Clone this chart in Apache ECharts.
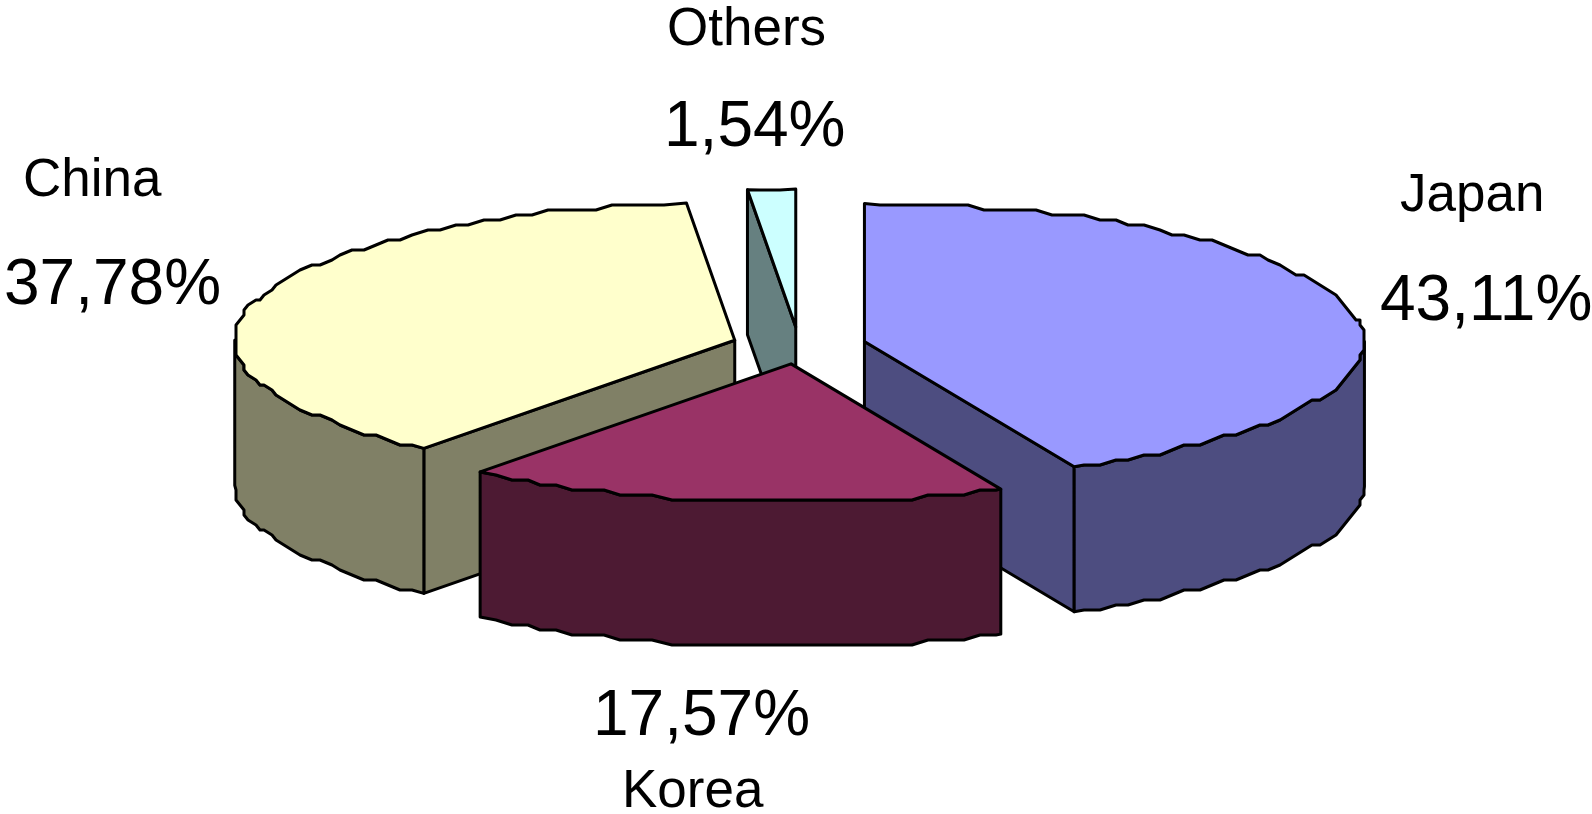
<!DOCTYPE html>
<html><head><meta charset="utf-8">
<style>html,body{margin:0;padding:0;background:#fff;overflow:hidden}#c{width:1592px;height:814px}</style>
<script src="https://cdn.jsdelivr.net/npm/echarts@6/dist/echarts.min.js"></script>
</head><body><div id="c"></div>
<script>
// Data
const categories = ['Japan', 'Korea', 'China', 'Others'];
const shares = [43.11, 17.57, 37.78, 1.54];
// Styles
const topColors = ['#9999FF', '#993366', '#FFFFCC', '#CCFFFF'];
const sideColors = ['#4D4D80', '#4D1A33', '#808066', '#668080'];
// Layout of the tilted pie
const geo = {cx: 799, cy: 345.5, rx: 500, ry: 138, depth: 145, explode: 67, gridX: 4, gridY: 5, step: 2};
const drawOrder = [3, 2, 0, 1];
const labelLayout = {
  Japan:  {name: [1400, 212], pct: [1380, 322]},
  Korea:  {name: [622, 808],  pct: [593, 737]},
  China:  {name: [23, 197],   pct: [4, 306]},
  Others: {name: [667, 46],   pct: [664, 148]}
};
const total = shares.reduce((a, b) => a + b, 0);
const rad = d => d * Math.PI / 180;
function sliceAngles(i) {
  let a = 0;
  for (let k = 0; k < i; k++) a += shares[k] / total * 360;
  return [a, a + shares[i] / total * 360];
}
function rimPoint(o, a, snap) {
  let x = o[0] + geo.rx * Math.sin(rad(a));
  let y = o[1] - geo.ry * Math.cos(rad(a));
  if (snap) { x = Math.round(x / geo.gridX) * geo.gridX; y = Math.round(y / geo.gridY) * geo.gridY; }
  return [x, y];
}
function rim(o, a0, a1) {
  const pts = [rimPoint(o, a0, false)];
  const first = Math.ceil(a0 / geo.step + 0.3) * geo.step;
  for (let a = first; a < a1 - geo.step * 0.3; a += geo.step) pts.push(rimPoint(o, a, true));
  pts.push(rimPoint(o, a1, false));
  return pts;
}
const drop = pts => pts.map(p => [p[0], p[1] + geo.depth]);
const lineW = 3;
function poly(points, fill) {
  return {type: 'polygon', shape: {points}, style: {fill, stroke: '#000', lineWidth: lineW, lineJoin: 'round'}, silent: true};
}
function txt(s, pos, size) {
  return {type: 'text', silent: true, style: {text: s, x: pos[0], y: pos[1] - 0.8 * size, fill: '#000',
    font: size + 'px "Liberation Sans", Arial, sans-serif', textAlign: 'left', textBaseline: 'top'}};
}
function renderItem(params) {
  const i = drawOrder[params.dataIndex];
  const [a0, a1] = sliceAngles(i);
  const mid = (a0 + a1) / 2;
  const o = [geo.cx + geo.explode * Math.sin(rad(mid)),
             geo.cy - geo.explode * geo.ry / geo.rx * Math.cos(rad(mid))];
  const side = sideColors[i], children = [];
  const pA = rimPoint(o, a0, false), pB = rimPoint(o, a1, false);
  if (Math.sin(rad(a0)) < -1e-6) children.push(poly([pA, o, [o[0], o[1] + geo.depth], [pA[0], pA[1] + geo.depth]], side));
  if (Math.sin(rad(a1)) > 1e-6) children.push(poly([pB, o, [o[0], o[1] + geo.depth], [pB[0], pB[1] + geo.depth]], side));
  const w0 = Math.max(a0, 90), w1 = Math.min(a1, 270);
  if (w1 > w0) {
    const r = rim(o, w0, w1);
    children.push(poly(r.concat(drop(r).reverse()), side));
  }
  children.push(poly([o].concat(rim(o, a0, a1)), topColors[i]));
  const l = labelLayout[categories[i]];
  children.push(txt(categories[i], l.name, 53));
  children.push(txt(shares[i].toFixed(2).replace('.', ',') + '%', l.pct, 64));
  return {type: 'group', children};
}
const chart = echarts.init(document.getElementById('c'), null, {renderer: 'canvas'});
chart.setOption({
  animation: false,
  backgroundColor: '#fff',
  series: [{type: 'custom', coordinateSystem: 'none', renderItem, silent: true,
    data: drawOrder.map(i => shares[i])}]
});
</script></body></html>
